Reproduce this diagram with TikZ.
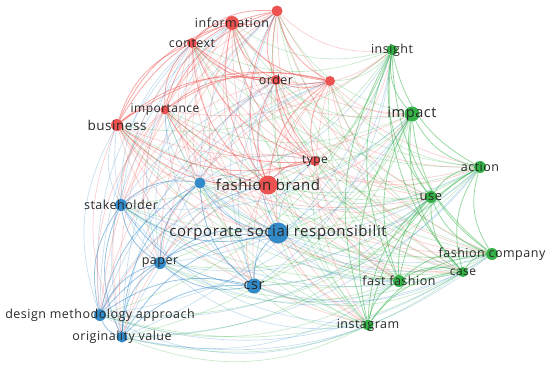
\documentclass[tikz,border=0pt]{standalone}
\usepackage{fontspec}
\setmainfont{Open Sans}[LetterSpace=4]
\usetikzlibrary{backgrounds}
\definecolor{cr}{RGB}{236,82,80}
\definecolor{cg}{RGB}{52,178,72}
\definecolor{cb}{RGB}{50,138,200}
\definecolor{txt}{RGB}{40,40,40}
\tikzset{
  kw/.style={circle, fill=#1, inner sep=0pt, draw=none},
  inedge/.style={draw=#1, opacity=.5, line width=.8pt},
  xedge/.style={draw=#1, opacity=.27, line width=.7pt},
}
\begin{document}
\begin{tikzpicture}[x=1pt,y=-1pt]
\useasboundingbox (0,0) rectangle (550,368);
\foreach \n/\x/\y/\c/\s/\t/\f in {
 info/232/23/cr/14/information/12.5,
 rtop/277/11/cr/11//11,
 context/192/43/cr/10/context/12.5,
 order/276/80/cr/10/order/12.5,
 rmid/330/81/cr/10//11,
 importance/165/110/cr/9/importance/12,
 business/117/125/cr/12/business/13.5,
 type/315/161/cr/10/type/12,
 fbrand/268/185/cr/19/fashion brand/15,
 bdot/200/183/cb/11//11,
 stake/121/205/cb/12/stakeholder/12.5,
 csrfull/278/233/cb/21/corporate social responsibilit/15,
 paper/160/263/cb/12/paper/12.5,
 csr/254/286/cb/15/csr/14.5,
 design/100/315/cb/12/design methodology approach/12.5,
 orig/122/337/cb/11/originality value/12.5,
 insight/392/50/cg/11/insight/12.5,
 impact/412/114/cg/15/impact/14.5,
 action/480/167/cg/12/action/12.5,
 use/431/197/cg/12/use/13,
 fcompany/492/254/cg/12/fashion company/12.5,
 case/463/272/cg/10/case/12,
 ffashion/399/281/cg/12/fast fashion/12.5,
 insta/368/325/cg/11/instagram/12.5}
 {\node[kw=\c, minimum size=\s pt,
   label={[text=txt,font=\fontsize{\f}{\f}\selectfont]center:\t}] (\n) at (\x,\y) {};}
\def\pairlist{info/cr,rtop/cr,context/cr,order/cr,rmid/cr,importance/cr,business/cr,type/cr,fbrand/cr,bdot/cb,stake/cb,csrfull/cb,paper/cb,csr/cb,design/cb,orig/cb,insight/cg,impact/cg,action/cg,use/cg,fcompany/cg,case/cg,ffashion/cg,insta/cg}
\begin{pgfonlayer}{background}
\foreach \a/\ca [count=\i] in \pairlist {
  \foreach \b/\cbb [count=\j] in \pairlist {
    \ifnum\j>\i
      \ifx\ca\cbb
        \draw[inedge=\ca] (\a) to[bend right=24] (\b);
      \else
        \ifodd\numexpr\i+\j\relax
          \draw[xedge=\ca] (\a) to[bend right=24] (\b);
        \else
          \draw[xedge=\cbb] (\a) to[bend right=24] (\b);
        \fi
      \fi
    \fi
  }
}
\end{pgfonlayer}
\end{tikzpicture}
\end{document}
